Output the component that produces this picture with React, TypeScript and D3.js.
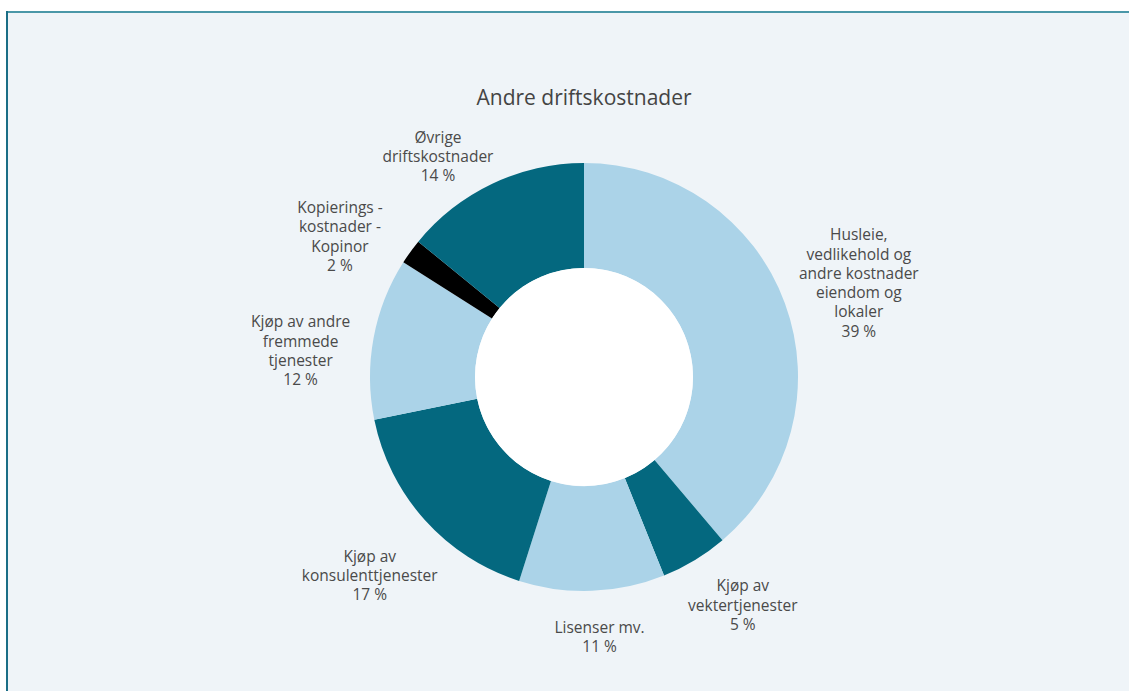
import React from "react";
import * as d3 from "d3";

const title = "Andre driftskostnader";

const categories = [
  ["Husleie,", "vedlikehold og", "andre kostnader", "eiendom og", "lokaler"],
  ["Kjøp av", "vektertjenester"],
  ["Lisenser mv."],
  ["Kjøp av", "konsulenttjenester"],
  ["Kjøp av  andre", "fremmede", "tjenester"],
  ["Kopierings -", "kostnader -", "Kopinor"],
  ["Øvrige", "driftskostnader"],
];

const values = [38.8, 5.1, 11.0, 16.9, 12.2, 1.9, 14.1];

const colors = ["#abd3e8", "#04687f", "#abd3e8", "#04687f", "#abd3e8", "#000000", "#04687f"];

// small nudges so labels sit like the original (avoid overlaps)
const labelShift = [
  [12, 2],
  [14, -12],
  [5, -20],
  [-6, 11],
  [-8, 24],
  [-17, 23],
  [-26, 32],
];

const width = 1129;
const height = 691;
const cx = 584;
const cy = 377;
const outerR = 214;
const innerR = 109;
const labelR = 280;
const lineH = 19.3;

const App = () => {
  const pie = d3
    .pie<number>()
    .sort(null)
    .value((d) => d);
  const arcs = pie(values);

  const arc = d3.arc<d3.PieArcDatum<number>>().innerRadius(innerR).outerRadius(outerR);
  const labelArc = d3.arc<d3.PieArcDatum<number>>().innerRadius(labelR).outerRadius(labelR);

  return (
    <svg
      width={width}
      height={height}
      style={{ position: "absolute", left: 0, top: 0, fontFamily: "'Open Sans', sans-serif" }}
    >
      <rect x={0} y={0} width={width} height={height} fill="#ffffff" />
      <rect x={7} y={12} width={width} height={height} fill="#eff4f8" />
      <line x1={6} x2={width} y1={12} y2={12} stroke="#4a97a8" strokeWidth={2} />
      <line x1={7} x2={7} y1={11} y2={height} stroke="#1a6e86" strokeWidth={2} />

      <text x={cx} y={97} textAnchor="middle" dominantBaseline="central" fontSize={21} fill="#444">
        {title}
      </text>

      <g transform={`translate(${cx},${cy})`}>
        {arcs.map((a, i) => (
          <path key={i} d={arc(a) || ""} fill={colors[i]} />
        ))}
        <circle r={innerR} fill="#ffffff" />
        {arcs.map((a, i) => {
          const [lx0, ly0] = labelArc.centroid(a);
          const lx = lx0 + labelShift[i][0];
          const ly = ly0 + labelShift[i][1];
          const lines = [...categories[i], `${Math.round(values[i])} %`];
          const top = ly - ((lines.length - 1) * lineH) / 2;
          return (
            <text key={i} textAnchor="middle" fontSize={15.5} fill="#4a4a4a">
              {lines.map((t, j) => (
                <tspan key={j} x={lx} y={top + j * lineH} dominantBaseline="central">
                  {t}
                </tspan>
              ))}
            </text>
          );
        })}
      </g>
    </svg>
  );
};

export default App;
